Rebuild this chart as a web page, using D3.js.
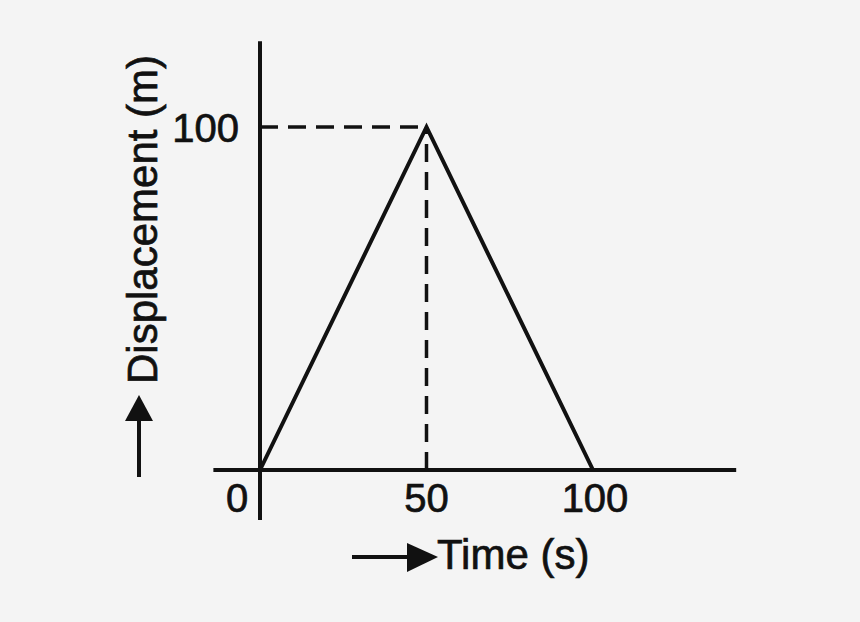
<!doctype html>
<html lang="en">
  <head>
    <meta charset="utf-8">
    <style>
    body { margin: 0; background: #f4f4f4; }
    svg { display: block; }
    .lbl { font-family: 'Liberation Sans', Arial, sans-serif; fill: #111; stroke: #111; stroke-width: 0.7px; }
    </style>
  </head>
  <body>
    <div id="content"></div>
    <script src="https://d3js.org/d3.v7.min.js"></script>
    <script type="text/javascript">
    var w = 860;
    var h = 622;

    // motion: out and back
    var times = [0, 50, 100];
    var displacement = [0, 100, 0];
    var xTicks = [0, 50, 100];
    var yTicks = [100];
    var xTitle = 'Time (s)';
    var yTitle = 'Displacement (m)';

    var dataset = times.map((t, i) => ({x: t, y: displacement[i]}));

    var svg = d3.select('#content')
                .append('svg')
                .attr('width', w)
                .attr('height', h);

    svg.append('rect').attr('width', w).attr('height', h).attr('fill', '#f4f4f4');

    var xScale = d3.scaleLinear()
                   .domain([0, 100])
                   .range([260, 593]);

    var yScale = d3.scaleLinear()
                   .domain([0, 100])
                   .range([470, 127]);

    var ink = '#111';

    // axis lines
    svg.append('line')
      .attr('x1', xScale(-14)).attr('x2', xScale(143))
      .attr('y1', yScale(0)).attr('y2', yScale(0))
      .attr('stroke', ink).attr('stroke-width', 4);

    svg.append('line')
      .attr('x1', xScale(0)).attr('x2', xScale(0))
      .attr('y1', yScale(-14.6)).attr('y2', yScale(125))
      .attr('stroke', ink).attr('stroke-width', 4);

    // dashed guides to the peak
    var peak = dataset[1];
    svg.append('line')
      .attr('x1', xScale(0)).attr('x2', xScale(peak.x))
      .attr('y1', yScale(peak.y)).attr('y2', yScale(peak.y))
      .attr('stroke', ink).attr('stroke-width', 3.5)
      .attr('stroke-dasharray', '18 10');

    svg.append('line')
      .attr('x1', xScale(peak.x)).attr('x2', xScale(peak.x))
      .attr('y1', yScale(0)).attr('y2', yScale(peak.y))
      .attr('stroke', ink).attr('stroke-width', 3.5)
      .attr('stroke-dasharray', '18 10');

    // the graph itself
    var line = d3.line()
                 .x(d => xScale(d.x))
                 .y(d => yScale(d.y));

    svg.append('path')
      .datum(dataset)
      .attr('d', line)
      .attr('fill', 'none')
      .attr('stroke', ink)
      .attr('stroke-width', 4)
      .attr('stroke-linejoin', 'miter');

    // tick labels
    svg.selectAll('.xt')
      .data(xTicks)
      .enter().append('text')
      .attr('class', 'lbl xt')
      .attr('x', d => d === 0 ? xScale(d) - 23 : xScale(d) + (d === 100 ? 2 : 0))
      .attr('y', 512)
      .attr('text-anchor', 'middle')
      .style('font-size', '40px')
      .text(d => d);

    svg.selectAll('.yt')
      .data(yTicks)
      .enter().append('text')
      .attr('class', 'lbl yt')
      .attr('x', 239)
      .attr('y', d => yScale(d) + 15)
      .attr('text-anchor', 'end')
      .style('font-size', '40px')
      .text(d => d);

    // x title with arrow
    svg.append('line')
      .attr('x1', 352).attr('x2', 412)
      .attr('y1', 557).attr('y2', 557)
      .attr('stroke', ink).attr('stroke-width', 4);
    svg.append('path')
      .attr('d', 'M407,543 L438,557 L407,572 Z')
      .attr('fill', ink);
    svg.append('text')
      .attr('class', 'lbl')
      .attr('x', 437)
      .attr('y', 569)
      .style('font-size', '42px')
      .text(xTitle);

    // y title with arrow
    svg.append('line')
      .attr('x1', 139).attr('x2', 139)
      .attr('y1', 477).attr('y2', 415)
      .attr('stroke', ink).attr('stroke-width', 4);
    svg.append('path')
      .attr('d', 'M125,421 L139,395 L153,421 Z')
      .attr('fill', ink);
    svg.append('text')
      .attr('class', 'lbl')
      .attr('transform', 'translate(157, 384) rotate(-90)')
      .style('font-size', '42px')
      .text(yTitle);
    </script>
  </body>
</html>
